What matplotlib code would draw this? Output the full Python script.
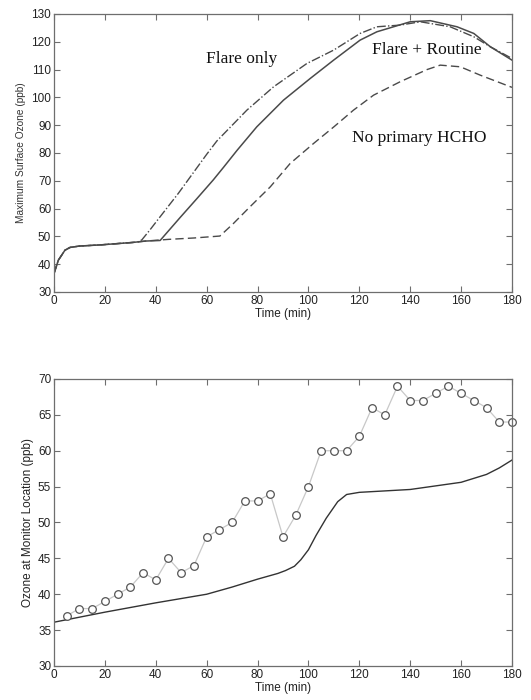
import matplotlib
matplotlib.use("Agg")
import matplotlib.pyplot as plt
import numpy as np

# top panel: maximum surface ozone for three scenarios
t_common = [0, 1.7, 4.3, 6.3, 10, 18, 31, 33]
o3_common = [36.6, 41.4, 45.0, 46.0, 46.5, 46.9, 47.8, 48.0]

t_flare_only = [34.5, 37.7, 40.4, 48.9, 60, 64, 75.8, 86.3, 99.4, 109.9, 120.3,
                126.9, 136, 144, 155.7, 165, 171.5, 180]
o3_flare_only = [48.7, 52.3, 55.5, 65.5, 79.5, 84.3, 95.4, 103.8, 112.2, 117, 123,
                 125.4, 126, 127.2, 125.4, 121.8, 118.2, 114]

t_routine = [36, 41.7, 49.6, 56, 62.6, 66.6, 72, 79.7, 90.2, 100.7, 109.9, 120.3,
             126.9, 140, 147.9, 158.4, 165, 171.5, 180]
o3_routine = [48.3, 48.5, 56.8, 63.4, 70.3, 74.8, 81, 89.4, 99, 106.8, 113.4, 120.6,
              123.6, 127.2, 127.6, 125.4, 123, 118.2, 113.4]

t_no_hcho = [36, 45, 55, 65.2, 70.5, 77, 85, 92.8, 102, 110, 117.7, 125.6, 136,
             146.6, 151.8, 159.7, 167.5, 180]
o3_no_hcho = [48.3, 48.9, 49.4, 50.1, 54.6, 60.6, 67.8, 76.2, 83.4, 89.4, 95.4, 100.8,
              105.6, 110, 111.6, 111, 108, 103.6]

# bottom panel: observed vs modelled ozone at monitor
t_obs = list(range(5, 181, 5))
o3_obs = [37, 38, 38, 39, 40, 41, 43, 42, 45, 43, 44, 48, 49, 50, 53, 53, 54, 48,
          51, 55, 60, 60, 60, 62, 66, 65, 69, 67, 67, 68, 69, 68, 67, 66, 64, 64]

t_model = [0, 20, 40, 60, 70, 80, 88, 91, 94.5, 97, 100, 103, 107, 111.5, 115, 120,
           140, 160, 170, 175, 180]
o3_model = [36.1, 37.5, 38.8, 40, 41, 42.1, 42.9, 43.3, 43.9, 44.8, 46.2, 48.2, 50.6,
            52.9, 53.9, 54.2, 54.6, 55.6, 56.7, 57.6, 58.7]

plt.rcParams["font.family"] = ["Liberation Sans", "DejaVu Sans"]
line_col = "#4a4a4a"
spine_col = "#6e6e6e"

fig = plt.figure(figsize=(5.31, 7.0), dpi=100)
ax1 = fig.add_axes([0.1017, 0.583, 0.8625, 0.397])
ax2 = fig.add_axes([0.1017, 0.0486, 0.8625, 0.41])


def style(ax):
    for s in ax.spines.values():
        s.set_color(spine_col)
        s.set_linewidth(0.9)
    ax.tick_params(direction="in", top=True, right=True, length=4,
                   color=spine_col, labelsize=8.5, labelcolor="#222222", pad=2)
    ax.set_xlim(0, 180)
    ax.set_xticks(np.arange(0, 181, 20))


def join(tc, vc, t, v):
    tt = [x for x in tc if x < t[0]] + t
    vv = [y for x, y in zip(tc, vc) if x < t[0]] + v
    return tt, vv


style(ax1)
ax1.set_ylim(30, 130)
ax1.set_yticks(np.arange(30, 131, 10))
x, y = join(t_common, o3_common, t_flare_only, o3_flare_only)
ax1.plot(x, y, color=line_col, lw=1.0, ls="-.")
x, y = join(t_common, o3_common, t_no_hcho, o3_no_hcho)
ax1.plot(x, y, color=line_col, lw=1.0, ls=(0, (6, 3)))
x, y = join(t_common, o3_common, t_routine, o3_routine)
ax1.plot(x, y, color=line_col, lw=1.1, ls="-")
ax1.set_xlabel("Time (min)", fontsize=8.5, color="#222222", labelpad=1)
ax1.set_ylabel("Maximum Surface Ozone (ppb)", fontsize=7.3, color="#333333", labelpad=4)

serif = ["Liberation Serif", "DejaVu Serif"]
ax1.text(73.9, 113.7, "Flare only", family=serif, fontsize=12.5, ha="center",
         va="center", color="#111111")
ax1.text(146.6, 117, "Flare + Routine", family=serif, fontsize=12.5, ha="center",
         va="center", color="#111111")
ax1.text(143.6, 85.5, "No primary HCHO", family=serif, fontsize=12.5, ha="center",
         va="center", color="#111111")

style(ax2)
ax2.set_ylim(30, 70)
ax2.set_yticks(np.arange(30, 71, 5))
ax2.plot(t_model, o3_model, color="#333333", lw=1.0)
ax2.plot(t_obs, o3_obs, color="#c8c8c8", lw=0.9, marker="o", ms=5.5,
         mfc="white", mec="#555555", mew=0.9, clip_on=False)
ax2.set_xlabel("Time (min)", fontsize=8.5, color="#222222", labelpad=1)
ax2.set_ylabel("Ozone at Monitor Location (ppb)", fontsize=8.5, color="#222222",
               labelpad=3)

fig.savefig("out.png", dpi=100, facecolor="white")
